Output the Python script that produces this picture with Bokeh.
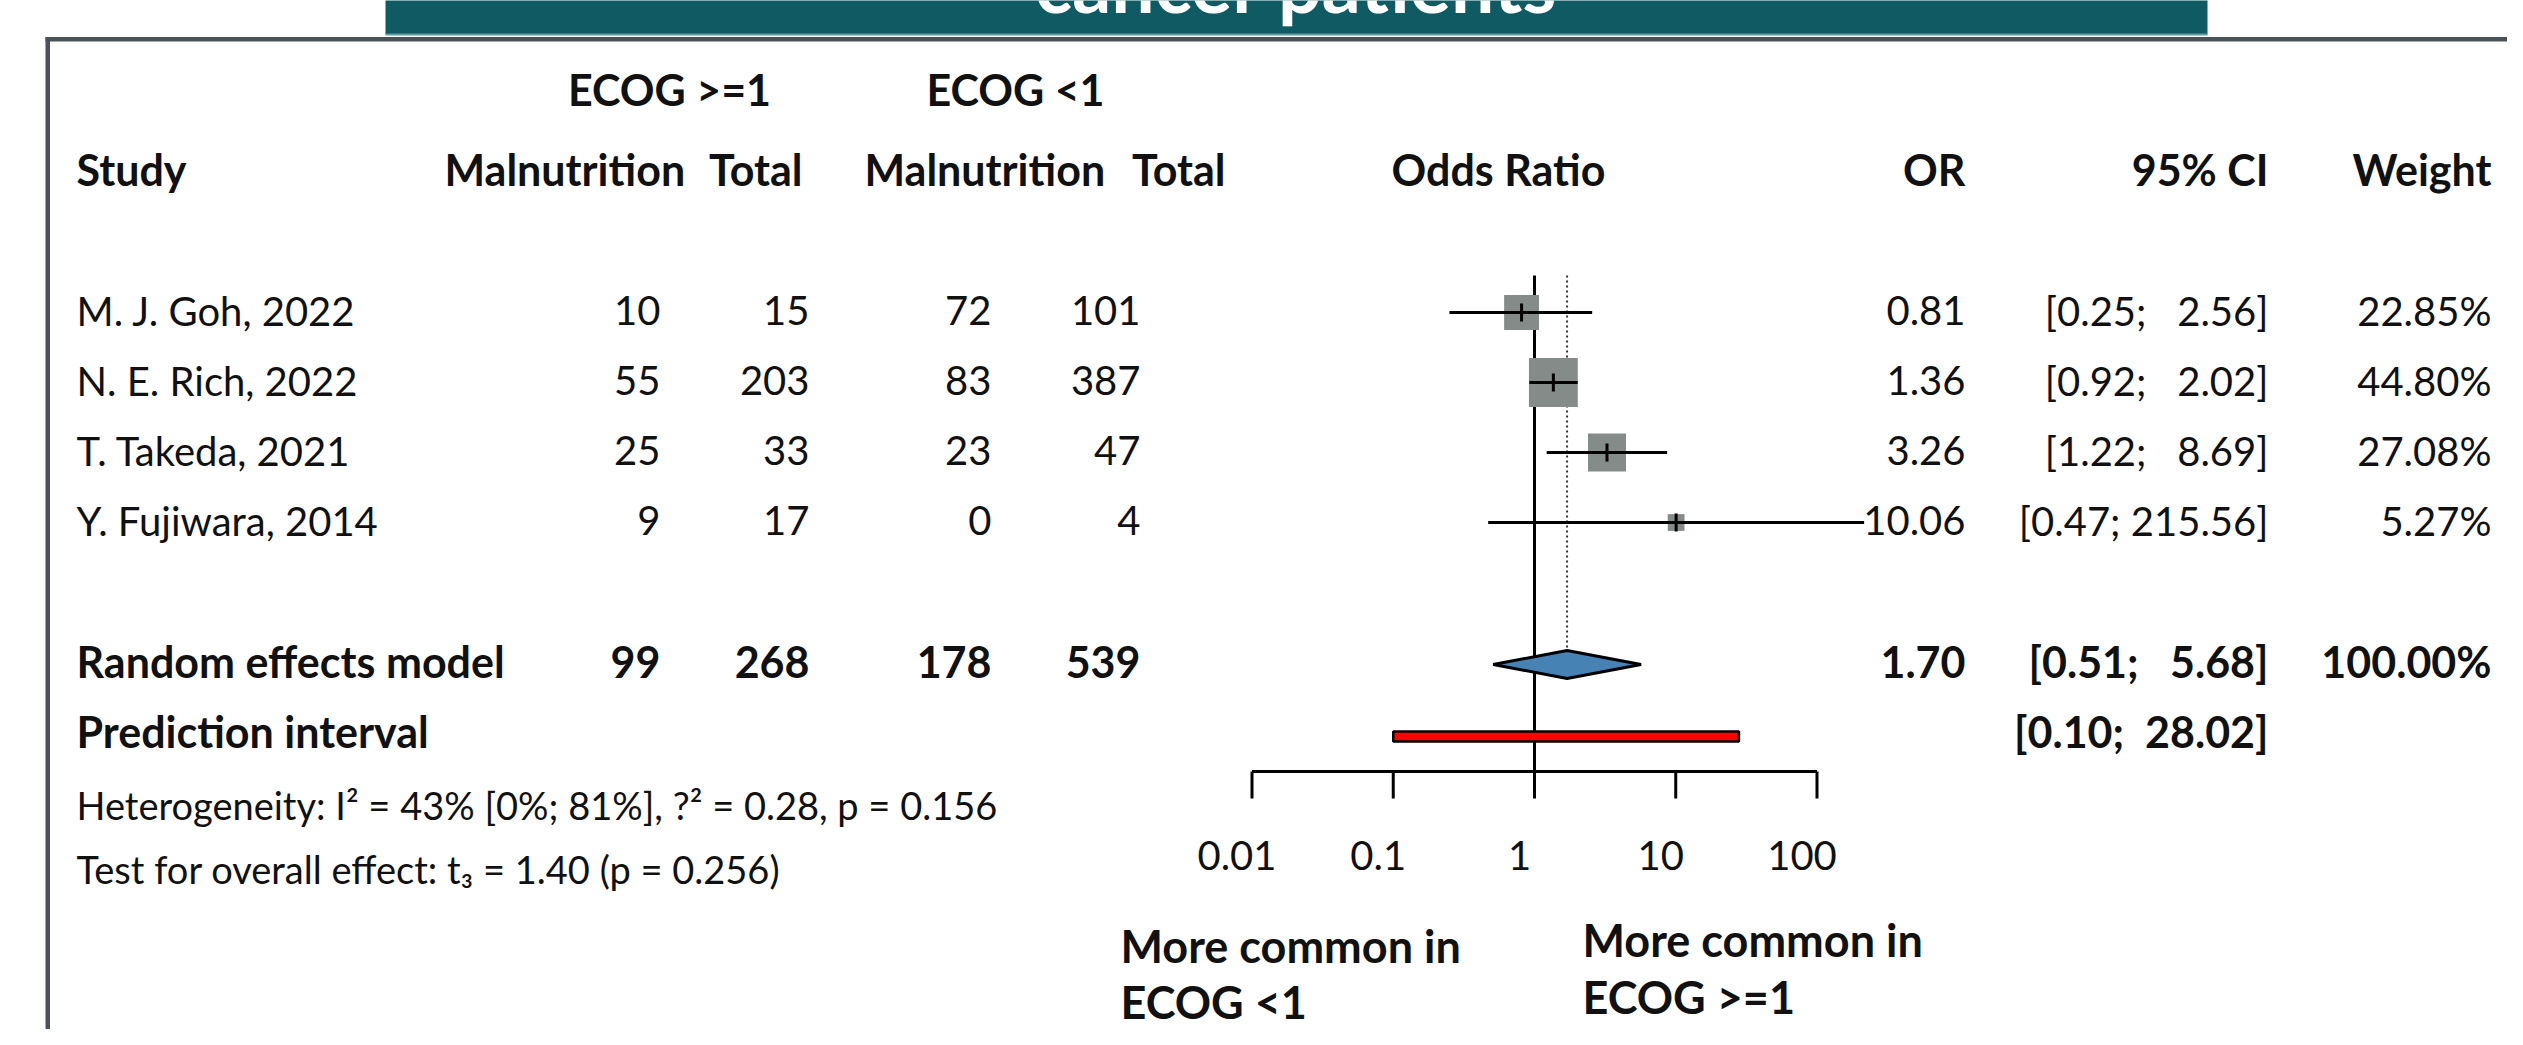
import numpy as np
from bokeh.plotting import figure
from bokeh.models import Range1d, LogScale, ColumnDataSource
from bokeh.core.properties import value
from bokeh.embed import file_html
from bokeh.resources import INLINE

# ---------------- data ----------------
studies = ["M. J. Goh, 2022", "N. E. Rich, 2022", "T. Takeda, 2021", "Y. Fujiwara, 2014"]
malnut_ecog_hi = [10, 55, 25, 9]
total_ecog_hi = [15, 203, 33, 17]
malnut_ecog_lo = [72, 83, 23, 0]
total_ecog_lo = [101, 387, 47, 4]
odds_ratio = [0.81, 1.36, 3.26, 10.06]
ci_low = [0.25, 0.92, 1.22, 0.47]
ci_high = [2.56, 2.02, 8.69, 215.56]
weights = [22.85, 44.80, 27.08, 5.27]

pooled_counts = [99, 268, 178, 539]
pooled_or = 1.70
pooled_low = 0.51
pooled_high = 5.68
pred_low = 0.10
pred_high = 28.02

heterogeneity = "Heterogeneity: I\u00b2 = 43% [0%; 81%], ?\u00b2 = 0.28, p = 0.156"
overall_test = "Test for overall effect: t\u2083 = 1.40 (p = 0.256)"

axis_ticks = [0.01, 0.1, 1, 10, 100]
axis_labels = ["0.01", "0.1", "1", "10", "100"]

# ---------------- layout ----------------
W, H = 2507, 1029
FONT = value("Lato")
REG = 40
BOLD = 43
INK = "#111111"
BASE_SHIFT = 0.395  # fraction of font size to compensate text placement

p = figure(width=W, height=H, output_backend="svg", toolbar_location=None,
           x_range=Range1d(0, W), y_range=Range1d(H, 0),
           min_border=0, outline_line_color=None)
p.axis.visible = False
p.grid.visible = False
p.background_fill_color = "white"
p.border_fill_color = "white"

# log scale for the odds ratio panel: OR 1 -> px 1534, one decade = 141.25 px
X1, DEC = 1534.0, 141.25
p.extra_x_ranges = {"or": Range1d(10 ** ((0 - X1) / DEC), 10 ** ((W - X1) / DEC))}
p.extra_x_scales = {"or": LogScale()}

# slide decoration
p.quad(left=385, right=2207, top=-5, bottom=34, fill_color="#0f5a63", line_color=None)
p.quad(left=385, right=2207, top=33, bottom=35, fill_color="#5f9aa1", line_color=None)
p.quad(left=45, right=2600, top=36.5, bottom=41, fill_color="#4a5259", line_color=None)
p.quad(left=45, right=49.5, top=36.5, bottom=1100, fill_color="#4a5259", line_color=None)


def txt(x, base, t, align="left", bold=False, italic=False, size=None, color=INK, x_range_name="default"):
    size = size or (BOLD if bold else REG)
    style = "bold" if bold else ("italic" if italic else "normal")
    ts = t if isinstance(t, list) else [t]
    k = len(ts)
    xs = x if isinstance(x, list) else [x] * k
    bs = base if isinstance(base, list) else [base] * k
    ys = [b - BASE_SHIFT * size for b in bs]
    p.text(x=xs, y=ys, text=ts, text_font=FONT, text_font_size="%dpx" % size,
           text_font_style=style, text_color=color, text_align=align, text_baseline="alphabetic",
           x_range_name=x_range_name)


txt(1296, 13, "cancer patients", align="center", bold=True, size=77, color="white")

# headers
txt(669, 106, "ECOG >=1", align="center", bold=True)
txt(1015, 106, "ECOG <1", align="center", bold=True)
HB = 186
txt(76, HB, "Study", bold=True)
txt(444, HB, "Malnutrition", bold=True)
txt(802, HB, "Total", align="right", bold=True)
txt(864, HB, "Malnutrition", bold=True)
txt(1225, HB, "Total", align="right", bold=True)
txt(1498, HB, "Odds Ratio", align="center", bold=True)
txt(1965, HB, "OR", align="right", bold=True)
txt(2268, HB, "95% CI", align="right", bold=True)
txt(2491, HB, "Weight", align="right", bold=True)

# study rows
ROW0, STEP = 312, 70
n = len(studies)
row_y = [ROW0 + STEP * i for i in range(n)]
base_y = [y + 14 for y in row_y]


def ci_str(lo, hi):
    return ("[%.2f; %6.2f]" % (lo, hi)).replace(" ", "\u00a0")


txt(76, base_y, studies)
txt(660, base_y, [str(v) for v in malnut_ecog_hi], align="right")
txt(809, base_y, [str(v) for v in total_ecog_hi], align="right")
txt(991, base_y, [str(v) for v in malnut_ecog_lo], align="right")
txt(1140, base_y, [str(v) for v in total_ecog_lo], align="right")
txt(1965, base_y, ["%.2f" % v for v in odds_ratio], align="right")
txt(2268, base_y, [ci_str(a, b) for a, b in zip(ci_low, ci_high)], align="right")
txt(2491, base_y, ["%.2f%%" % w for w in weights], align="right")

# pooled row
SUM_Y = 664
txt(76, SUM_Y + 14, "Random effects model", bold=True)
txt([660, 809, 991, 1140], SUM_Y + 14, [str(v) for v in pooled_counts], align="right", bold=True)
txt(1965, SUM_Y + 14, "%.2f" % pooled_or, align="right", bold=True)
txt(2268, SUM_Y + 14, ci_str(pooled_low, pooled_high), align="right", bold=True)
txt(2491, SUM_Y + 14, "%.2f%%" % sum(weights), align="right", bold=True)

PRED_Y = 736
txt(76, PRED_Y + 12, "Prediction interval", bold=True)
txt(2268, PRED_Y + 12, ci_str(pred_low, pred_high), align="right", bold=True)

# heterogeneity / overall effect
txt(76, 820, heterogeneity, size=38)
txt(76, 884, overall_test, size=38)

# ---------------- forest panel ----------------
TOP_Y, AXIS_Y = 275, 771
p.segment(x0=[1], x1=[1], y0=[TOP_Y], y1=[AXIS_Y], x_range_name="or", line_color="black", line_width=3)
p.segment(x0=[pooled_or], x1=[pooled_or], y0=[TOP_Y], y1=[SUM_Y - 14], x_range_name="or",
          line_color="#333333", line_width=2, line_dash="2 3")

src = ColumnDataSource(dict(or_=odds_ratio, lo=ci_low, hi=ci_high, y=row_y,
                            size=[7.3 * np.sqrt(w) for w in weights],
                            t0=[y - 9 for y in row_y], t1=[y + 9 for y in row_y]))
p.scatter(x="or_", y="y", size="size", marker="square", source=src, x_range_name="or",
          fill_color="#858b89", line_color=None)
p.segment(x0="lo", x1="hi", y0="y", y1="y", source=src, x_range_name="or", line_color="black", line_width=3)
p.segment(x0="or_", x1="or_", y0="t0", y1="t1", source=src, x_range_name="or", line_color="black", line_width=3)

# pooled diamond
p.patch(x=[pooled_low, pooled_or, pooled_high, pooled_or], y=[SUM_Y, SUM_Y - 14, SUM_Y, SUM_Y + 14],
        x_range_name="or", fill_color="#4682b4", line_color="black", line_width=3)
# prediction interval
p.quad(left=[pred_low], right=[pred_high], top=[PRED_Y - 5], bottom=[PRED_Y + 5], x_range_name="or",
       fill_color="#ff0000", line_color="black", line_width=2.5)

# axis
p.segment(x0=[axis_ticks[0]], x1=[axis_ticks[-1]], y0=[AXIS_Y], y1=[AXIS_Y], x_range_name="or",
          line_color="black", line_width=3)
p.segment(x0=axis_ticks, x1=axis_ticks, y0=[AXIS_Y] * len(axis_ticks), y1=[AXIS_Y + 27] * len(axis_ticks),
          x_range_name="or", line_color="black", line_width=3)
p.text(x=axis_ticks, y=[871 - BASE_SHIFT * REG] * len(axis_ticks), text=axis_labels, x_range_name="or",
       x_offset=-15, text_font=FONT, text_font_size="%dpx" % REG, text_color=INK, text_align="center",
       text_baseline="alphabetic")

txt(1120, 963, "More common in", bold=True, size=45)
txt(1120, 1019, "ECOG <1", bold=True, size=45)
txt(1582, 957, "More common in", bold=True, size=45)
txt(1582, 1014, "ECOG >=1", bold=True, size=45)

open("out.html", "w").write(file_html(p, INLINE))
